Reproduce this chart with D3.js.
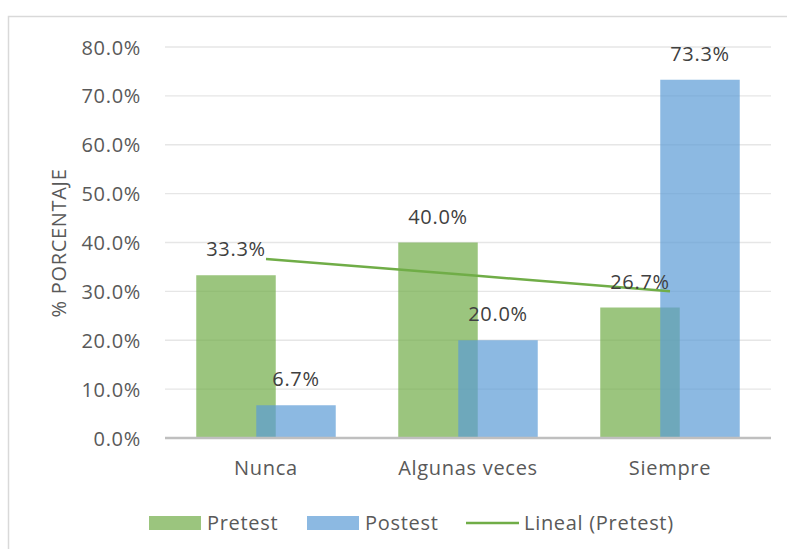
<!DOCTYPE html>
<html><head><meta charset="utf-8">
<script src="https://cdn.jsdelivr.net/npm/d3@7"></script>
<style>body{margin:0;background:#fff}svg{display:block}text{font-family:"Open Sans",sans-serif;fill:#595959;letter-spacing:0.7px}</style>
</head><body><svg id="c" width="787" height="549"></svg>
<script>
const categories = ["Nunca", "Algunas veces", "Siempre"];
const pretest = [33.3, 40.0, 26.7];
const postest = [6.7, 20.0, 73.3];
const yTicks = [0, 10, 20, 30, 40, 50, 60, 70, 80];
const seriesNames = ["Pretest", "Postest", "Lineal (Pretest)"];

const svg = d3.select("#c");
const W = 787, H = 549;
const green = "#70AD47", blue = "#5B9BD5";
const FS = 20;

svg.append("rect").attr("x", 8.5).attr("y", 16.5).attr("width", W).attr("height", H)
  .attr("fill", "none").attr("stroke", "#D9D9D9").attr("stroke-width", 1.5);

const x0 = 165, x1 = 771;
const x = d3.scaleBand().domain(categories).range([x0, x1]);
const y = d3.scaleLinear().domain([0, 80]).range([438, 47]);

// gridlines
svg.append("g").selectAll("line").data(yTicks.filter(d => d > 0)).join("line")
  .attr("x1", x0).attr("x2", x1).attr("y1", d => y(d)).attr("y2", d => y(d))
  .attr("stroke", "#E6E6E6").attr("stroke-width", 1.3);

// y axis labels
const yAxis = d3.axisLeft(y).tickValues(yTicks).tickSize(0).tickPadding(0)
  .tickFormat(d => d.toFixed(1) + "%");
const gy = svg.append("g").attr("transform", "translate(141,0)").call(yAxis);
gy.select(".domain").remove();
gy.selectAll("text").attr("font-size", FS).attr("fill", "#595959")
  .attr("font-family", "Open Sans, sans-serif").attr("dy", "0.35em");

// bars
const bw = 79.5, off = 60;
const gBars = svg.append("g");
categories.forEach((c, i) => {
  const cx = x(c) + x.bandwidth() / 2;
  const left = cx - (bw + off) / 2;
  gBars.append("rect").attr("x", left).attr("y", y(pretest[i]))
    .attr("width", bw).attr("height", y(0) - y(pretest[i]))
    .attr("fill", green).attr("fill-opacity", 0.7);
  gBars.append("rect").attr("x", left + off).attr("y", y(postest[i]))
    .attr("width", bw).attr("height", y(0) - y(postest[i]))
    .attr("fill", blue).attr("fill-opacity", 0.7);
});

// baseline
svg.append("line").attr("x1", x0).attr("x2", x1).attr("y1", y(0)).attr("y2", y(0))
  .attr("stroke", "#BFBFBF").attr("stroke-width", 2.5);

// trend line (least squares of pretest)
const n = pretest.length;
const xs = d3.range(1, n + 1);
const mx = d3.mean(xs), my = d3.mean(pretest);
const slope = d3.sum(xs.map((v, i) => (v - mx) * (pretest[i] - my))) / d3.sum(xs.map(v => (v - mx) ** 2));
const icpt = my - slope * mx;
const trend = xs.map((v, i) => [x(categories[i]) + x.bandwidth() / 2, y(icpt + slope * v)]);
svg.append("path").attr("d", d3.line()(trend)).attr("fill", "none")
  .attr("stroke", green).attr("stroke-width", 2.5);

// data labels
const gl = svg.append("g");
categories.forEach((c, i) => {
  const cx = x(c) + x.bandwidth() / 2;
  const left = cx - (bw + off) / 2;
  gl.append("text").attr("x", left + bw / 2).attr("y", y(pretest[i]) - 19)
    .attr("text-anchor", "middle").attr("font-size", FS).style("fill", "#404040")
    .text(pretest[i].toFixed(1) + "%");
  gl.append("text").attr("x", left + off + bw / 2).attr("y", y(postest[i]) - 19)
    .attr("text-anchor", "middle").attr("font-size", FS).style("fill", "#404040")
    .text(postest[i].toFixed(1) + "%");
});

// category labels
const xAxis = d3.axisBottom(x).tickSize(0).tickPadding(0);
const gx = svg.append("g").attr("transform", "translate(0,461)").call(xAxis);
gx.select(".domain").remove();
gx.selectAll("text").attr("font-size", FS).attr("fill", "#595959")
  .attr("font-family", "Open Sans, sans-serif").attr("dy", "0.71em");

// axis title
svg.append("text").attr("transform", "translate(66,243) rotate(-90)")
  .attr("text-anchor", "middle").attr("font-size", FS).text("% PORCENTAJE");

// legend
const lg = svg.append("g");
const ly = 523;
const items = [
  {name: seriesNames[0], sx: 149, type: "rect", color: green},
  {name: seriesNames[1], sx: 307, type: "rect", color: blue},
  {name: seriesNames[2], sx: 466, type: "line", color: green}
];
items.forEach(it => {
  if (it.type === "rect") {
    lg.append("rect").attr("x", it.sx).attr("y", ly - 7).attr("width", 52).attr("height", 14)
      .attr("fill", it.color).attr("fill-opacity", 0.7);
  } else {
    lg.append("line").attr("x1", it.sx).attr("x2", it.sx + 53).attr("y1", ly).attr("y2", ly)
      .attr("stroke", it.color).attr("stroke-width", 2.5);
  }
  lg.append("text").attr("x", it.sx + 58).attr("y", ly)
    .attr("dy", "0.35em").attr("font-size", FS).text(it.name);
});
</script></body></html>
